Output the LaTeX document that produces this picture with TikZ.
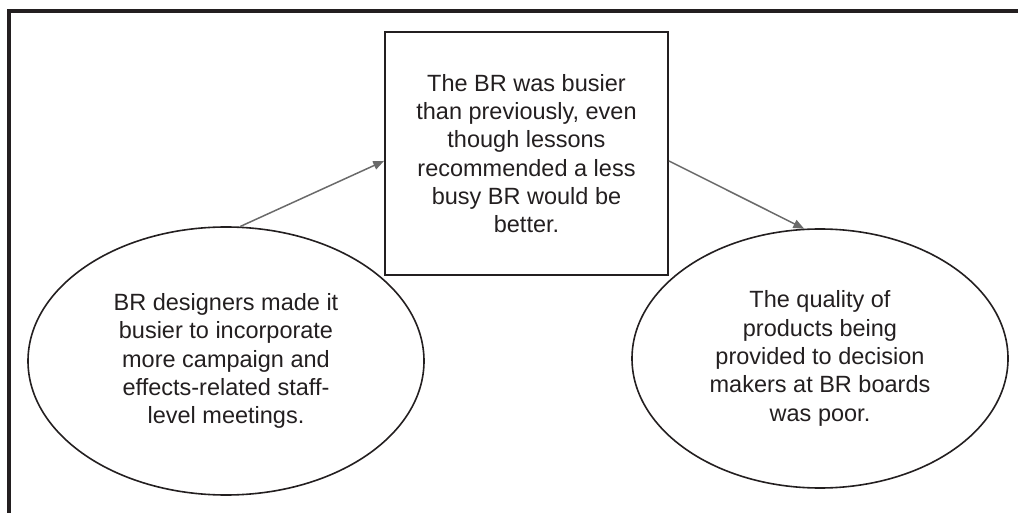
\documentclass[tikz,border=0pt]{standalone}
\usepackage{fontspec}
\setmainfont{Liberation Sans}
\usepackage{tikz}
\usetikzlibrary{arrows, shapes.geometric}
\definecolor{ink}{HTML}{231F20}
\definecolor{wire}{HTML}{6A6A6A}

\begin{document}
\begin{tikzpicture}[x=1pt, y=-1pt,
	every node/.style={text=ink, align=center, inner sep=0pt,
		font=\fontsize{23.5}{28.3}\selectfont},
	bubble/.style={ellipse, draw=ink, line width=1.6pt},
	link/.style={draw=wire, line width=1.5pt, -triangle 45}]
	\useasboundingbox (0,0) rectangle (1018,513);

	% open frame round the figure
	\draw[ink, line width=4pt] (9,513) -- (9,11.5) -- (1018,11.5);

	\node[draw=ink, line width=2pt, minimum width=283pt, minimum height=243pt] (busy) at (526.5,153.5)
		{The BR was busier\\than previously, even\\though lessons\\recommended a less\\busy BR would be\\better.};
	\node[bubble, minimum width=396pt, minimum height=268pt] (design) at (226,361)
		{BR designers made it\\busier to incorporate\\more campaign and\\effects-related staff-\\level meetings.};
	\node[bubble, minimum width=376pt, minimum height=259pt] (poor) at (820,358.5)
		{The quality of\\products being\\provided to decision\\makers at BR boards\\was poor.};

	\draw[link] (design.84) -- (busy.183);
	\draw[link] (busy.-3) -- (poor.97);
\end{tikzpicture}
\end{document}
